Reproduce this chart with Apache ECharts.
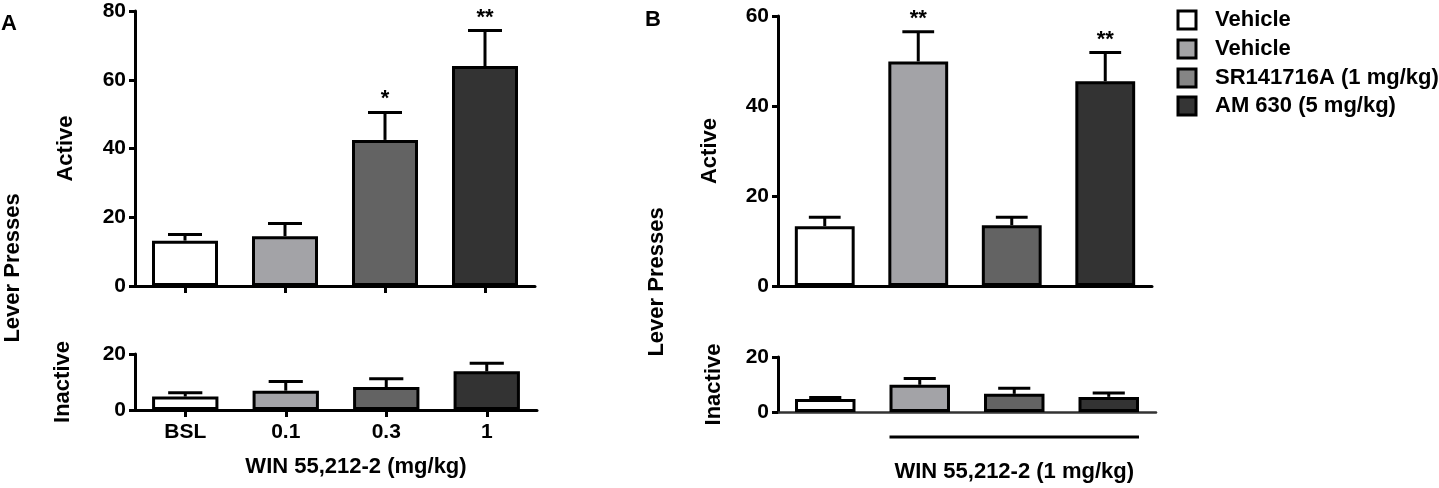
<!DOCTYPE html>
<html>
<head>
<meta charset="utf-8">
<script src="https://cdn.jsdelivr.net/npm/echarts@6/dist/echarts.min.js"></script>
<style>
  html, body { margin: 0; padding: 0; background: #fff; }
  #main { width: 1439px; height: 488px; }
</style>
</head>
<body>
<div id="main"></div>
<script>
// panel A: WIN 55,212-2 dose response
var doseLabels = ['BSL', '0.1', '0.3', '1'];
var activeA = [13.2, 14.5, 42.5, 64.0];
var activeASem = [1.8, 3.7, 8.0, 10.3];
var activeASig = ['', '', '*', '**'];
var inactiveA = [4.8, 6.9, 8.2, 13.8];
var inactiveASem = [1.4, 3.3, 3.0, 2.9];

// panel B: antagonists with 1 mg/kg WIN
var groupLabels = ['Vehicle', 'Vehicle', 'SR141716A (1 mg/kg)', 'AM 630 (5 mg/kg)'];
var activeB = [13.3, 49.9, 13.5, 45.5];
var activeBSem = [2.0, 6.6, 1.8, 6.4];
var activeBSig = ['', '**', '', '**'];
var inactiveB = [4.7, 9.9, 6.6, 5.5];
var inactiveBSem = [0.6, 2.3, 2.0, 1.4];

var barColors = ['#ffffff', '#a3a3a7', '#636363', '#333333'];
var legendColors = ['#ffffff', '#a4a4a6', '#858585', '#353535'];

var FONT = "'Liberation Sans', Arial, sans-serif";

var dom = document.getElementById('main');
var myChart = echarts.init(dom);

function barData(vals) {
    var out = [];
    for (var i = 0; i < vals.length; i++) {
        out.push({ value: vals[i], itemStyle: { color: barColors[i] } });
    }
    return out;
}

function errData(vals, sem) {
    var out = [];
    for (var i = 0; i < vals.length; i++) {
        out.push([i, vals[i], vals[i] + sem[i]]);
    }
    return out;
}

// error bar (upper side only) + significance stars
function makeErr(sigs) {
    return function (params, api) {
        var i = api.value(0);
        var base = api.coord([i, api.value(1)]);
        var top = api.coord([i, api.value(2)]);
        var cw = api.size([1, 0])[0];
        var half = cw * 0.17;
        var st = { stroke: '#000', lineWidth: 3 };
        var kids = [
            { type: 'line', shape: { x1: base[0], y1: base[1], x2: top[0], y2: top[1] }, style: st },
            { type: 'line', shape: { x1: top[0] - half, y1: top[1], x2: top[0] + half, y2: top[1] }, style: st }
        ];
        var sig = sigs ? sigs[params.dataIndex] : '';
        if (sig) {
            kids.push({
                type: 'text',
                style: {
                    text: sig, x: top[0], y: top[1] - 2,
                    align: 'center', verticalAlign: 'bottom',
                    font: 'bold 22px ' + FONT, fill: '#000'
                }
            });
        }
        return { type: 'group', children: kids };
    };
}

function yAx(grid, max, name, gap) {
    return {
        type: 'value', gridIndex: grid, min: 0, max: max, interval: 20,
        name: name, nameLocation: 'middle', nameGap: gap, nameRotate: 90,
        nameTextStyle: { fontFamily: FONT, fontWeight: 'bold', fontSize: 22, color: '#000' },
        axisLine: { show: true, lineStyle: { color: '#000', width: 3 } },
        axisTick: { show: true, length: 6, lineStyle: { color: '#000', width: 3 } },
        axisLabel: { fontFamily: FONT, fontWeight: 'bold', fontSize: 21, color: '#000', margin: 9 },
        splitLine: { show: false }
    };
}

function xAx(grid, ticks, labels) {
    return {
        type: 'category', gridIndex: grid, data: doseLabels,
        axisLine: { show: true, lineStyle: { color: '#000', width: 3 } },
        axisTick: { show: ticks, alignWithLabel: true, length: 7, lineStyle: { color: '#000', width: 3 } },
        axisLabel: { show: labels, fontFamily: FONT, fontWeight: 'bold', fontSize: 21, color: '#000', margin: 12 }
    };
}

var xAxes = [xAx(0, true, false), xAx(1, true, true), xAx(2, false, false), xAx(3, false, false)];
xAxes[1].name = 'WIN 55,212-2 (mg/kg)';
xAxes[1].nameLocation = 'middle';
xAxes[1].nameGap = 46;
xAxes[1].nameTextStyle = { fontFamily: FONT, fontWeight: 'bold', fontSize: 22, color: '#000', padding: [0, 0, 0, 40] };
xAxes[3].axisLine.lineStyle = { color: '#333', width: 2.5 };

var option = {
    backgroundColor: '#fff',
    animation: false,
    grid: [
        { left: 135, top: 11, width: 400, height: 275 },
        { left: 135, top: 354, width: 402, height: 56 },
        { left: 778, top: 16, width: 374, height: 270 },
        { left: 778, top: 357, width: 378, height: 55 }
    ],
    xAxis: xAxes,
    yAxis: [
        yAx(0, 80, 'Active', 58),
        yAx(1, 20, 'Inactive', 61),
        yAx(2, 60, 'Active', 57),
        yAx(3, 20, 'Inactive', 53)
    ],
    series: [
        { type: 'bar', xAxisIndex: 0, yAxisIndex: 0, barWidth: '66%', data: barData(activeA),
          itemStyle: { borderColor: '#000', borderWidth: 3 } },
        { type: 'bar', xAxisIndex: 1, yAxisIndex: 1, barWidth: '66%', data: barData(inactiveA),
          itemStyle: { borderColor: '#000', borderWidth: 3 } },
        { type: 'bar', xAxisIndex: 2, yAxisIndex: 2, barWidth: '64%', data: barData(activeB),
          itemStyle: { borderColor: '#000', borderWidth: 3 } },
        { type: 'bar', xAxisIndex: 3, yAxisIndex: 3, barWidth: '64%', data: barData(inactiveB),
          itemStyle: { borderColor: '#000', borderWidth: 3 } },
        { type: 'custom', xAxisIndex: 0, yAxisIndex: 0, renderItem: makeErr(activeASig), data: errData(activeA, activeASem), z: 1 },
        { type: 'custom', xAxisIndex: 1, yAxisIndex: 1, renderItem: makeErr(null), data: errData(inactiveA, inactiveASem), z: 1 },
        { type: 'custom', xAxisIndex: 2, yAxisIndex: 2, renderItem: makeErr(activeBSig), data: errData(activeB, activeBSem), z: 1 },
        { type: 'custom', xAxisIndex: 3, yAxisIndex: 3, renderItem: makeErr(null), data: errData(inactiveB, inactiveBSem), z: 1 }
    ]
};
myChart.setOption(option);

// panel letters, shared y titles, legend, and the bracket under B
var txt = { fontFamily: FONT, fontWeight: 'bold', fill: '#000' };
var graphics = [
    { type: 'text', left: 1, top: 13, style: Object.assign({ text: 'A', fontSize: 22 }, txt) },
    { type: 'text', left: 645, top: 9, style: Object.assign({ text: 'B', fontSize: 22 }, txt) },
    { type: 'text', x: 13, y: 268, rotation: Math.PI / 2,
      style: Object.assign({ text: 'Lever Presses', fontSize: 22, align: 'center', verticalAlign: 'middle' }, txt) },
    { type: 'text', x: 657, y: 282, rotation: Math.PI / 2,
      style: Object.assign({ text: 'Lever Presses', fontSize: 22, align: 'center', verticalAlign: 'middle' }, txt) }
];
var legendY = [20, 49, 78, 106];
for (var i = 0; i < groupLabels.length; i++) {
    graphics.push({ type: 'rect', shape: { x: 1178, y: legendY[i] - 9, width: 18, height: 18 },
        style: { fill: legendColors[i], stroke: '#000', lineWidth: 3 } });
    graphics.push({ type: 'text', x: 1215, y: legendY[i],
        style: Object.assign({ text: groupLabels[i], fontSize: 22, verticalAlign: 'middle' }, txt) });
}
var p1 = myChart.convertToPixel({ xAxisIndex: 3, yAxisIndex: 3 }, [1, 0]);
var p3 = myChart.convertToPixel({ xAxisIndex: 3, yAxisIndex: 3 }, [3, 0]);
var cw = (p3[0] - p1[0]) / 2;
var lx1 = p1[0] - cw * 0.32, lx2 = p3[0] + cw * 0.32;
graphics.push({ type: 'line', shape: { x1: lx1, y1: p1[1] + 25, x2: lx2, y2: p1[1] + 25 },
    style: { stroke: '#000', lineWidth: 3 } });
graphics.push({ type: 'text', x: (lx1 + lx2) / 2, y: p1[1] + 60,
    style: Object.assign({ text: 'WIN 55,212-2 (1 mg/kg)', fontSize: 22, align: 'center', verticalAlign: 'middle' }, txt) });
myChart.setOption({ graphic: graphics });
</script>
</body>
</html>
